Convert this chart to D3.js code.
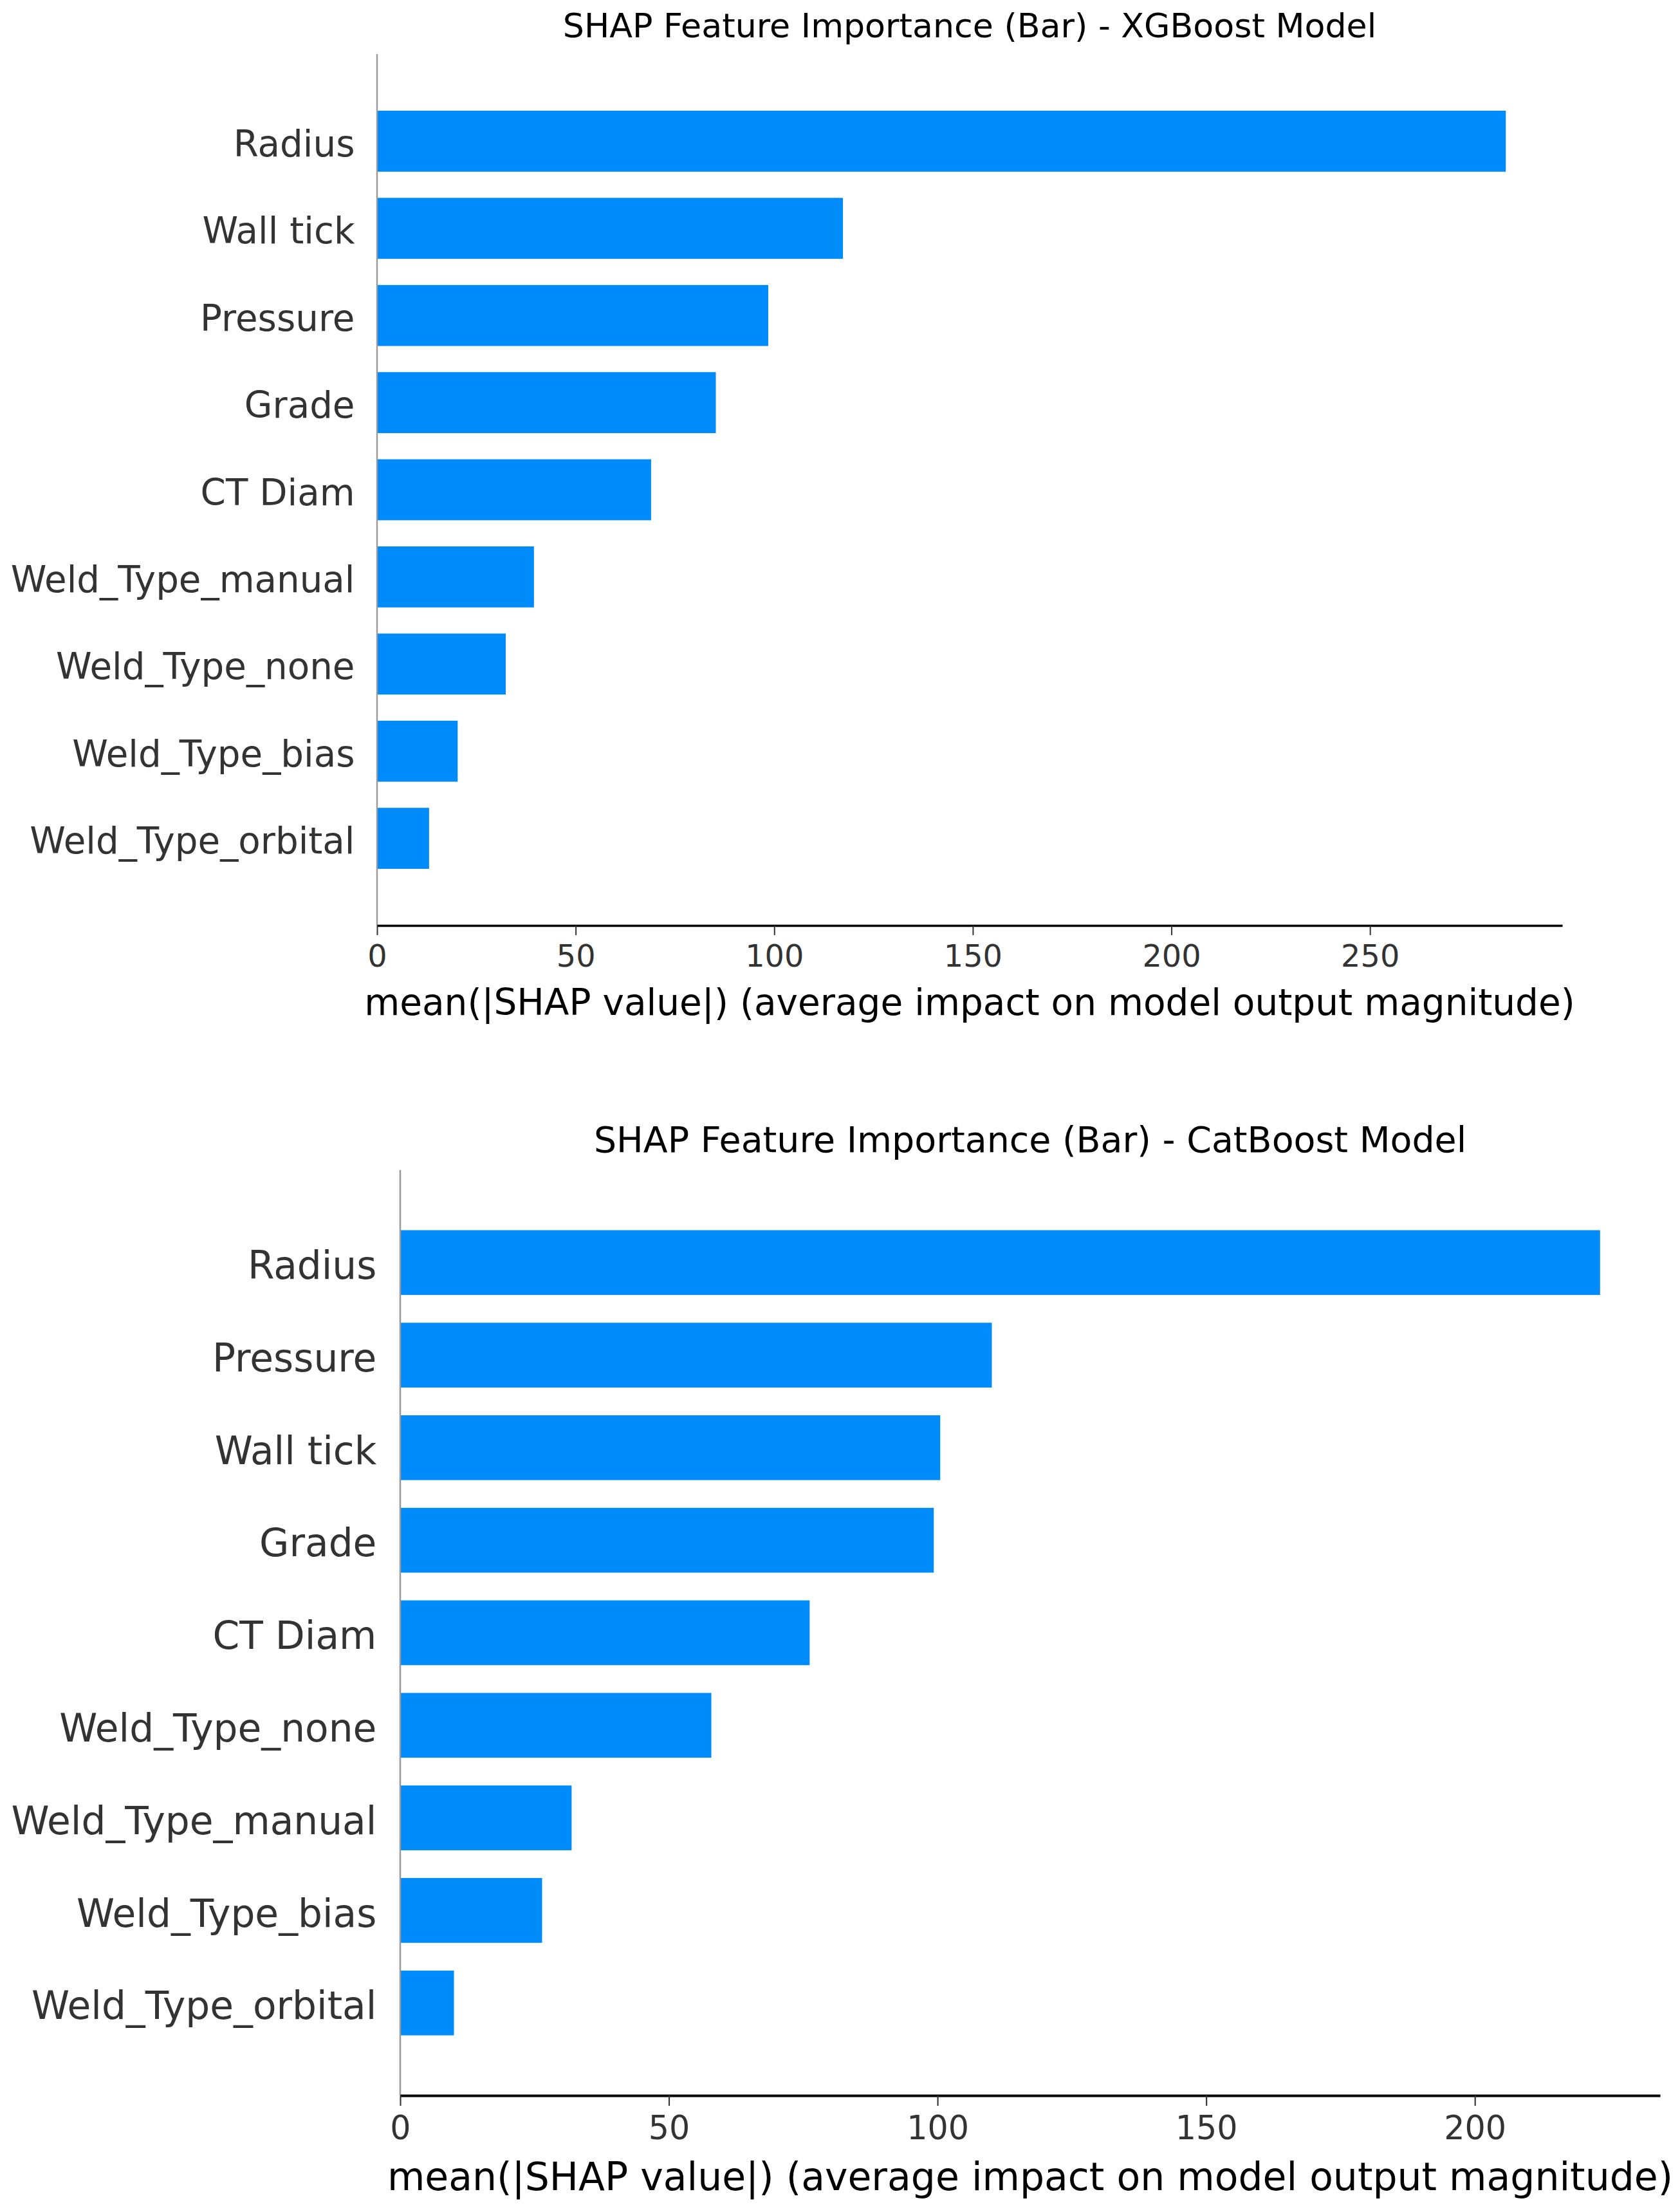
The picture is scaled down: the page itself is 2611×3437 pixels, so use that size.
<!DOCTYPE html>
<html>
<head>
<meta charset="utf-8">
<script src="https://cdn.jsdelivr.net/npm/d3@7"></script>
<style>
  body { margin: 0; background: #fff; }
  text { font-family: "DejaVu Sans", sans-serif; }
</style>
</head>
<body>
<script>
// values
const xgbFeatures = ["Radius", "Wall tick", "Pressure", "Grade", "CT Diam",
    "Weld_Type_manual", "Weld_Type_none", "Weld_Type_bias", "Weld_Type_orbital"];
const xgbValues = [284.2, 117.3, 98.5, 85.3, 69.0, 39.5, 32.4, 20.3, 13.1];
const xgbTicks = [0, 50, 100, 150, 200, 250];

const catFeatures = ["Radius", "Pressure", "Wall tick", "Grade", "CT Diam",
    "Weld_Type_none", "Weld_Type_manual", "Weld_Type_bias", "Weld_Type_orbital"];
const catValues = [223.3, 110.1, 100.5, 99.3, 76.2, 57.9, 31.9, 26.4, 10.0];
const catTicks = [0, 50, 100, 150, 200];

const xLabel = "mean(|SHAP value|) (average impact on model output magnitude)";

const W = 2611, H = 3437;
const barColor = "#008bfb";

const svg = d3.select("body").append("svg")
    .attr("width", W)
    .attr("height", H)
    .style("display", "block");

svg.append("rect").attr("width", W).attr("height", H).attr("fill", "#fff");

// one shap-style bar panel
function drawPanel(opt) {
    const k = opt.k; // font / line scale of this panel
    const g = svg.append("g");

    const x = d3.scaleLinear()
        .domain([0, d3.max(opt.values) * 1.05])
        .range([opt.left, opt.right]);

    // rows: -1 .. n, first feature on top
    const n = opt.features.length;
    const y = d3.scaleLinear()
        .domain([-1, n])
        .range([opt.top, opt.bottom]);

    const data = opt.features.map((f, i) => ({name: f, value: opt.values[i], i: i}));

    g.selectAll("rect.bar")
        .data(data)
        .join("rect")
        .attr("class", "bar")
        .attr("x", x(0))
        .attr("y", d => y(d.i - 0.35))
        .attr("width", d => x(d.value) - x(0))
        .attr("height", d => y(d.i + 0.35) - y(d.i - 0.35))
        .attr("fill", barColor);

    // feature labels
    g.selectAll("text.feat")
        .data(data)
        .join("text")
        .attr("class", "feat")
        .attr("x", x(0) - 34.5 * k)
        .attr("y", d => y(d.i))
        .attr("dy", "0.42em")
        .attr("text-anchor", "end")
        .attr("font-size", 56.3 * k)
        .attr("fill", "#333333")
        .text(d => d.name);

    // left spine
    g.append("line")
        .attr("x1", x(0)).attr("x2", x(0))
        .attr("y1", opt.top).attr("y2", opt.bottom)
        .attr("stroke", "#9a9a9a")
        .attr("stroke-width", 2.4 * k);

    // x axis
    const axis = d3.axisBottom(x)
        .tickValues(opt.ticks)
        .tickFormat(d3.format("d"))
        .tickSizeInner(15 * k)
        .tickSizeOuter(0)
        .tickPadding(15 * k);

    const ax = g.append("g")
        .attr("transform", "translate(0," + opt.bottom + ")")
        .call(axis);

    ax.select(".domain")
        .attr("stroke", "#000")
        .attr("stroke-width", 3.6 * k);
    ax.selectAll(".tick line")
        .attr("stroke", "#333333")
        .attr("stroke-width", 2 * k);
    ax.selectAll(".tick text")
        .attr("fill", "#333333")
        .attr("font-size", 47.8 * k)
        .attr("font-family", "DejaVu Sans");

    g.append("text")
        .attr("x", (opt.left + opt.right) / 2)
        .attr("y", opt.labelY)
        .attr("text-anchor", "middle")
        .attr("font-size", 56.5 * k)
        .attr("fill", "#000")
        .text(xLabel);

    g.append("text")
        .attr("x", (opt.left + opt.right) / 2)
        .attr("y", opt.top - 26 * k)
        .attr("text-anchor", "middle")
        .attr("font-size", 52.2 * k)
        .attr("fill", "#000")
        .text(opt.title);
}

drawPanel({
    title: "SHAP Feature Importance (Bar) - XGBoost Model",
    features: xgbFeatures, values: xgbValues, ticks: xgbTicks,
    left: 586, right: 2428, top: 84, bottom: 1438, labelY: 1577, k: 1
});

drawPanel({
    title: "SHAP Feature Importance (Bar) - CatBoost Model",
    features: catFeatures, values: catValues, ticks: catTicks,
    left: 622, right: 2580, top: 1818, bottom: 3256, labelY: 3403, k: 1.062
});
</script>
</body>
</html>
